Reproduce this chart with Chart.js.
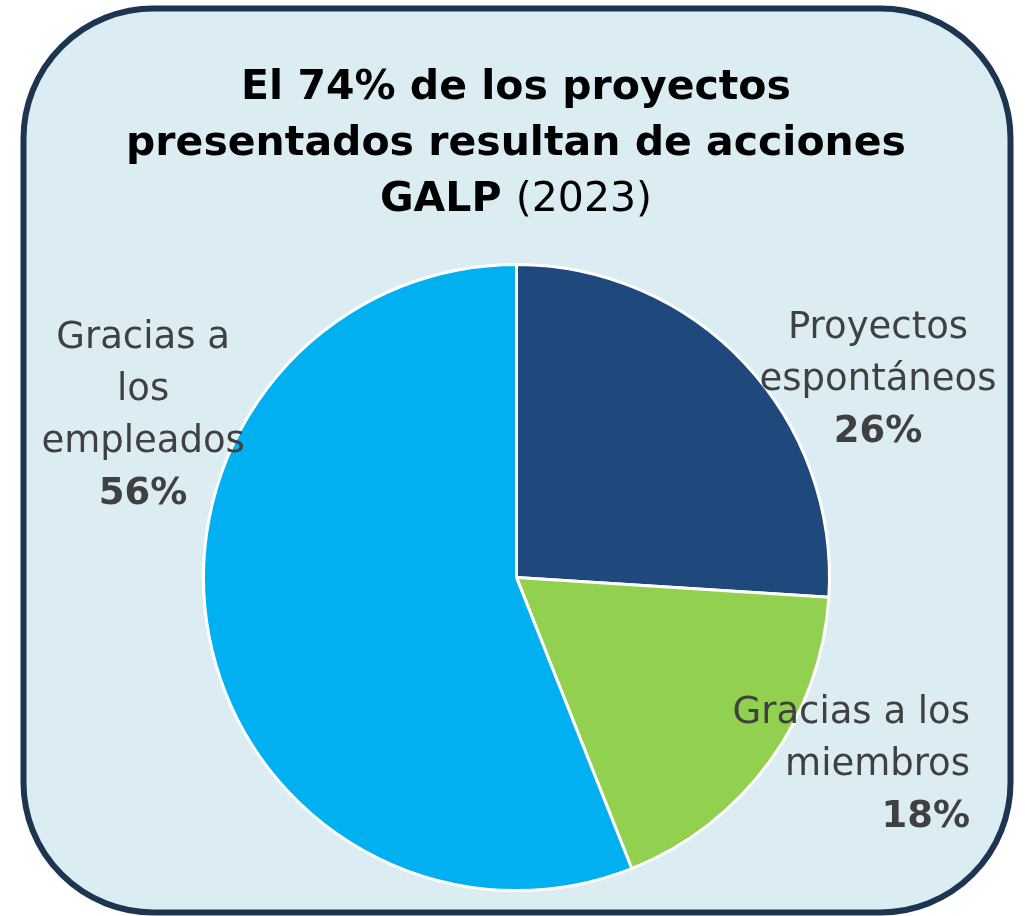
<!DOCTYPE html>
<html>
<head>
<meta charset="utf-8">
<script src="https://cdn.jsdelivr.net/npm/chart.js@4.4.1/dist/chart.umd.min.js"></script>
<style>
  html, body { margin: 0; padding: 0; background: #ffffff; }
  #wrap { width: 1025px; height: 916px; position: relative; }
</style>
</head>
<body>
<div id="wrap"><canvas id="pie"></canvas></div>
<script>
const categories = [
  ["Proyectos", "espontáneos"],
  ["Gracias a los", "miembros"],
  ["Gracias a", "los", "empleados"]
];
const shares = [26, 18, 56];
const sliceColors = ["#1f497d", "#92d050", "#00b0f0"];

// where each label sits, in pie radii from the centre (x, first baseline) + alignment
const labelSpots = [
  { dx: 1.155, dy: -0.765, align: "center" },
  { dx: 1.449, dy: 0.465, align: "right" },
  { dx: -1.193, dy: -0.733, align: "center" }
];

const FONT = "'DejaVu Sans', sans-serif";
const LINE = 52;

// rounded panel behind everything
const panel = {
  id: "panel",
  beforeDraw(chart) {
    const ctx = chart.ctx;
    ctx.save();
    ctx.beginPath();
    ctx.roundRect(23.5, 8.5, 987, 904, 130);
    ctx.fillStyle = "#dbedf3";
    ctx.fill();
    ctx.lineWidth = 6;
    ctx.strokeStyle = "#1e3550";
    ctx.stroke();
    ctx.restore();
  }
};

// three-line heading, last line mixes bold and regular
const heading = {
  id: "heading",
  afterDraw(chart) {
    const ctx = chart.ctx;
    const cx = 516;
    const size = 41;
    ctx.save();
    ctx.fillStyle = "#000000";
    ctx.textBaseline = "alphabetic";
    ctx.textAlign = "center";
    ctx.font = "bold " + size + "px " + FONT;
    ctx.fillText("El 74% de los proyectos", cx, 99);
    ctx.fillText("presentados resultan de acciones", cx, 155);
    const boldPart = "GALP ";
    const normPart = "(2023)";
    const wb = ctx.measureText(boldPart).width;
    ctx.font = size + "px " + FONT;
    const wn = ctx.measureText(normPart).width;
    const x0 = cx - (wb + wn) / 2;
    ctx.textAlign = "left";
    ctx.font = "bold " + size + "px " + FONT;
    ctx.fillText(boldPart, x0, 211);
    ctx.font = size + "px " + FONT;
    ctx.fillText(normPart, x0 + wb, 211);
    ctx.restore();
  }
};

// category name + bold percentage beside each slice
const sliceLabels = {
  id: "sliceLabels",
  afterDatasetsDraw(chart) {
    const ctx = chart.ctx;
    const arcs = chart.getDatasetMeta(0).data;
    ctx.save();
    ctx.fillStyle = "#404040";
    ctx.textBaseline = "alphabetic";
    arcs.forEach((arc, i) => {
      const spot = labelSpots[i];
      const r = arc.outerRadius;
      const x = arc.x + spot.dx * r;
      let y = arc.y + spot.dy * r;
      ctx.textAlign = spot.align;
      ctx.font = "37px " + FONT;
      categories[i].forEach(line => {
        ctx.fillText(line, x, y);
        y += LINE;
      });
      ctx.font = "bold 37px " + FONT;
      ctx.fillText(shares[i] + "%", x, y);
    });
    ctx.restore();
  }
};

new Chart(document.getElementById("pie"), {
  type: "pie",
  data: {
    labels: categories.map(c => c.join(" ")),
    datasets: [{
      data: shares,
      backgroundColor: sliceColors,
      borderColor: "#ffffff",
      borderWidth: 3
    }]
  },
  options: {
    responsive: true,
    maintainAspectRatio: false,
    animation: false,
    radius: 313,
    layout: { padding: { left: 8, right: 0, top: 250, bottom: 11 } },
    plugins: {
      legend: { display: false },
      title: { display: false },
      tooltip: { enabled: false }
    }
  },
  plugins: [panel, sliceLabels, heading]
});
</script>
</body>
</html>
